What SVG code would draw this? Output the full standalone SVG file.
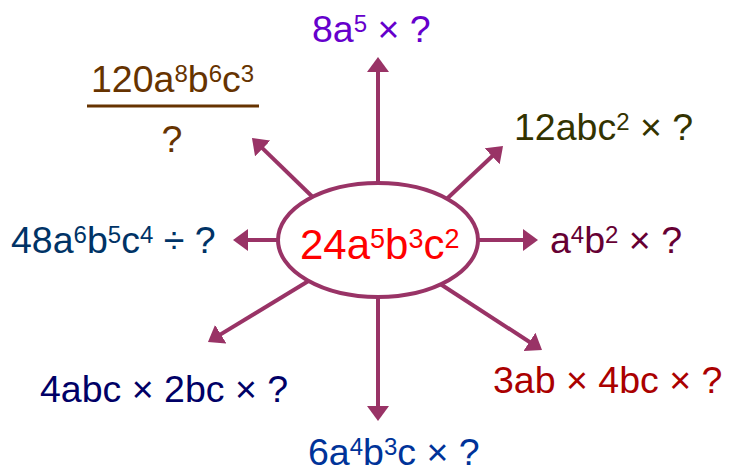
<svg xmlns="http://www.w3.org/2000/svg" width="729" height="473" viewBox="0 0 729 473">
<style>
text{font-family:"Liberation Sans",Arial,sans-serif;font-size:37.5px}
.main{font-size:42px;fill:#ff0000}
.s{font-size:24px}
.sm{font-size:27px}
.conn line{stroke:#993366;stroke-width:4;marker-end:url(#ah)}
</style>
<defs>
<marker id="ah" markerUnits="userSpaceOnUse" markerWidth="16" markerHeight="22" refX="7" refY="11" orient="auto" viewBox="0 0 16 22">
<path d="M0,0 L15,11 L0,22 z" fill="#993366"/>
</marker>
</defs>
<g id="connectors" class="conn">
<line x1="378" y1="200" x2="378" y2="65"/>
<line x1="378" y1="280" x2="378" y2="413"/>
<line x1="300" y1="240" x2="241" y2="240"/>
<line x1="460" y1="240" x2="530" y2="240"/>
<line x1="436" y1="209" x2="497.2" y2="151.5"/>
<line x1="324" y1="208" x2="257.7" y2="143.6"/>
<line x1="320" y1="274" x2="214.8" y2="337.9"/>
<line x1="428" y1="276" x2="535.3" y2="345.7"/>
</g>
<g id="center">
<ellipse cx="378" cy="240" rx="100" ry="57" fill="#ffffff" stroke="#993366" stroke-width="4"/>
<text class="main" x="300" y="259">24a<tspan class="sm" dy="-11">5</tspan><tspan dy="11">b</tspan><tspan class="sm" dy="-11">3</tspan><tspan dy="11">c</tspan><tspan class="sm" dy="-11">2</tspan></text>
</g>
<g id="top" fill="#6600cc">
<text x="312" y="42">8a<tspan class="s" dy="-10">5</tspan><tspan dy="10"> × ?</tspan></text>
</g>
<g id="upper-right" fill="#333300">
<text x="514" y="140">12abc<tspan class="s" dy="-10">2</tspan><tspan dy="10"> × ?</tspan></text>
</g>
<g id="upper-left" fill="#663300">
<text x="91" y="92">120a<tspan class="s" dy="-10">8</tspan><tspan dy="10">b</tspan><tspan class="s" dy="-10">6</tspan><tspan dy="10">c</tspan><tspan class="s" dy="-10">3</tspan></text>
<rect x="87" y="104.5" width="172" height="3"/>
<text x="172" y="152" text-anchor="middle">?</text>
</g>
<g id="left" fill="#003366">
<text x="11" y="253">48a<tspan class="s" dy="-10">6</tspan><tspan dy="10">b</tspan><tspan class="s" dy="-10">5</tspan><tspan dy="10">c</tspan><tspan class="s" dy="-10">4</tspan><tspan dy="10"> ÷ ?</tspan></text>
</g>
<g id="right" fill="#660033">
<text x="550" y="253">a<tspan class="s" dy="-10">4</tspan><tspan dy="10">b</tspan><tspan class="s" dy="-10">2</tspan><tspan dy="10"> × ?</tspan></text>
</g>
<g id="lower-left" fill="#000066">
<text x="40" y="402">4abc × 2bc × ?</text>
</g>
<g id="lower-right" fill="#aa0000">
<text x="493" y="393">3ab × 4bc × ?</text>
</g>
<g id="bottom" fill="#003399">
<text x="308" y="465">6a<tspan class="s" dy="-10">4</tspan><tspan dy="10">b</tspan><tspan class="s" dy="-10">3</tspan><tspan dy="10">c × ?</tspan></text>
</g>
</svg>
